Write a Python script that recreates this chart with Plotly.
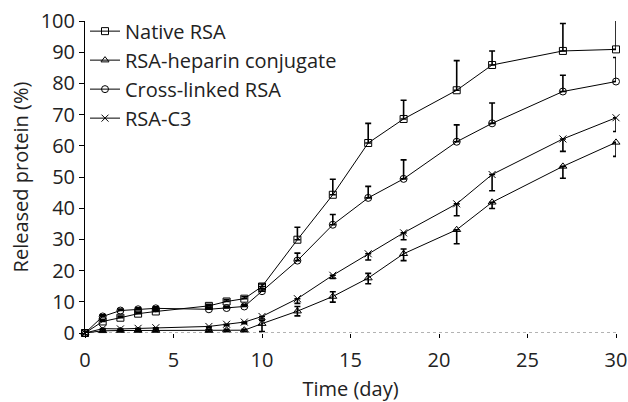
import plotly.graph_objects as go

days = [0, 1, 2, 3, 4, 7, 8, 9, 10, 12, 14, 16, 18, 21, 23, 27, 30]

native = [0, 3.7, 4.9, 6.2, 6.9, 8.7, 10.1, 11.0, 14.9, 29.9, 44.3, 60.9, 68.6, 77.8, 85.9, 90.4, 90.9]
native_up = [0.3, 0.5, 0.5, 0.5, 0.5, 0.5, 0.6, 0.6, 0.8, 4.0, 5.0, 6.3, 6.0, 9.5, 4.5, 8.8, 9.4]
native_dn = [0] * 17

heparin = [0, 0.7, 0.8, 0.8, 0.8, 0.8, 0.9, 0.9, 3.0, 7.0, 11.7, 17.6, 25.4, 33.1, 41.9, 53.4, 61.1]
heparin_up = [0.2, 0.3, 0.3, 0.3, 0.3, 0.3, 0.3, 0.3, 1.0, 1.5, 1.5, 1.5, 1.5, 0, 0, 0, 0]
heparin_dn = [0.2, 0.3, 0.3, 0.3, 0.3, 0.3, 0.3, 0.3, 2.5, 1.5, 1.8, 1.8, 2.2, 4.5, 2.0, 3.8, 4.5]

crosslinked = [0, 5.3, 7.2, 7.6, 7.9, 7.6, 8.0, 8.5, 13.4, 23.2, 34.7, 43.3, 49.4, 61.3, 67.2, 77.4, 80.6]
crosslinked_up = [0.3, 0.5, 0.5, 0.5, 0.5, 0.5, 0.5, 0.5, 0.8, 2.4, 3.3, 3.7, 6.1, 5.4, 6.5, 5.2, 7.7]
crosslinked_dn = [0] * 17

c3 = [0, 1.4, 1.3, 1.5, 1.7, 2.1, 2.8, 3.5, 5.3, 11.0, 18.5, 25.4, 32.1, 41.4, 50.8, 62.2, 69.0]
c3_up = [0] * 17
c3_dn = [0.2, 0.3, 0.3, 0.3, 0.3, 0.4, 0.5, 0.5, 0.8, 1.5, 1.0, 2.0, 2.2, 3.8, 5.2, 4.0, 4.4]

x_ticks = [0, 5, 10, 15, 20, 25, 30]
y_ticks = [0, 10, 20, 30, 40, 50, 60, 70, 80, 90, 100]

series = [
    ("Native RSA", native, native_up, native_dn, "square-open"),
    ("RSA-heparin conjugate", heparin, heparin_up, heparin_dn, "triangle-up-open"),
    ("Cross-linked RSA", crosslinked, crosslinked_up, crosslinked_dn, "circle-open"),
    ("RSA-C3", c3, c3_up, c3_dn, "x-thin-open"),
]

fig = go.Figure()
for name, vals, up, dn, sym in series:
    fig.add_trace(go.Scatter(
        x=days, y=vals, name=name, mode="lines+markers",
        line=dict(color="black", width=1),
        marker=dict(symbol=sym, size=7, color="black", line=dict(color="black", width=1)),
        error_y=dict(type="data", symmetric=False, array=up, arrayminus=dn,
                     color="black", thickness=1.6, width=3),
        cliponaxis=False,
    ))

font = "Open Sans, Noto Sans, sans-serif"
fig.add_shape(type="line", xref="x", yref="y", x0=0, x1=30, y0=0, y1=0,
              line=dict(color="#666666", width=1, dash="dot"), layer="below")

fig.update_layout(
    width=628, height=402,
    margin=dict(l=85, r=12, t=21, b=69),
    paper_bgcolor="white", plot_bgcolor="white",
    font=dict(family=font, color="#222222", size=20),
    showlegend=True,
    legend=dict(x=0.0, y=1.03, xanchor="left", yanchor="top",
                font=dict(size=20, family=font, color="#222222"),
                bgcolor="rgba(0,0,0,0)", itemwidth=30, tracegroupgap=0),
    xaxis=dict(range=[0, 30], tickvals=x_ticks, automargin=False,
               showline=False, showgrid=False, zeroline=False,
               ticks="outside", ticklen=4, tickcolor="black",
               ticklabelstandoff=5,
               tickfont=dict(size=20),
               title=dict(text="Time (day)", font=dict(size=20), standoff=14)),
    yaxis=dict(range=[0, 100], tickvals=y_ticks, automargin=False,
               showline=True, linecolor="black", linewidth=1,
               showgrid=False, zeroline=False,
               ticks="outside", ticklen=5, tickcolor="black",
               tickfont=dict(size=20),
               title=dict(text="Released protein (%)", font=dict(size=20), standoff=6)),
)

# remove the browser's default 8px body margin so the figure fills the window
fig.write_html("out.html",
               config={"displayModeBar": False, "staticPlot": True},
               post_script="document.body.style.margin='0';document.body.style.overflow='hidden';")
